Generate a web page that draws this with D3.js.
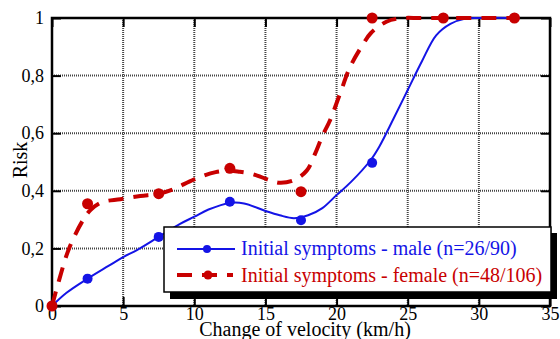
<!DOCTYPE html>
<html>
<head>
<meta charset="utf-8">
<script src="https://cdn.jsdelivr.net/npm/d3@7"></script>
<style>
  html, body { margin: 0; padding: 0; background: #fff; }
  svg { display: block; }
</style>
</head>
<body>
<svg id="chart" width="560" height="339"></svg>
<script>
// Axis ticks
const xTicks = [0, 5, 10, 15, 20, 25, 30, 35];
const yTicks = [0, 0.2, 0.4, 0.6, 0.8, 1];
const yTickLabels = ["0", "0,2", "0,4", "0,6", "0,8", "1"];

// Observed risk per velocity class (dots)
const maleObsX   = [0, 2.5, 7.5, 12.5, 17.5, 22.5, 27.5, 32.5];
const maleObsY   = [0, 0.095, 0.24, 0.362, 0.298, 0.497, 1, 1];
const femaleObsX = [0, 2.5, 7.5, 12.5, 17.5, 22.5, 27.5, 32.5];
const femaleObsY = [0, 0.355, 0.39, 0.478, 0.397, 1, 1, 1];

// Smoothed risk curves
const maleCurveX = [0, 1, 2.5, 4, 5, 6, 7.5, 9, 10, 11, 12.5, 13.5, 15, 16, 17, 18, 19, 20, 21, 22.4, 23, 24, 25, 26, 27, 28, 29, 30, 32.5];
const maleCurveY = [0, 0.045, 0.095, 0.14, 0.17, 0.195, 0.24, 0.285, 0.31, 0.335, 0.358, 0.356, 0.33, 0.315, 0.305, 0.315, 0.34, 0.385, 0.43, 0.507, 0.553, 0.65, 0.75, 0.85, 0.94, 0.98, 0.997, 1, 1];
const femaleCurveX = [0, 0.5, 1.2, 2.2, 2.7, 3.5, 4.8, 6.2, 7.5, 8.5, 10, 11.5, 12.5, 13.2, 14.1, 15.3, 16, 17, 17.9, 18.5, 19, 19.55, 20.25, 20.95, 21.9, 22.4, 23.5, 24.5, 26, 32.5];
const femaleCurveY = [0, 0.09, 0.2, 0.3, 0.333, 0.36, 0.371, 0.382, 0.39, 0.405, 0.44, 0.465, 0.47, 0.466, 0.458, 0.437, 0.428, 0.437, 0.47, 0.53, 0.59, 0.646, 0.738, 0.83, 0.912, 0.947, 0.987, 0.999, 1, 1];

const seriesNames = ["Initial symptoms - male (n=26/90)", "Initial symptoms - female (n=48/106)"];
const xTitle = "Change of velocity (km/h)";
const yTitle = "Risk";

const BLUE = "#1414e6";
const RED = "#c80000";
const FONT = '"Liberation Serif", "Times New Roman"';

const svg = d3.select("#chart");
const L = 52, R = 550, T = 18, B = 306;

const x = d3.scaleLinear().domain([0, 35]).range([L, R]);
const y = d3.scaleLinear().domain([0, 1]).range([B, T]);

// Dotted grid
const grid = svg.append("g");
grid.selectAll("line.gx").data(xTicks.slice(1, -1)).join("line")
  .attr("x1", d => x(d)).attr("x2", d => x(d)).attr("y1", T).attr("y2", B)
  .attr("stroke", "#444").attr("stroke-width", 2).attr("stroke-dasharray", "1,1");
grid.selectAll("line.gy").data(yTicks.slice(1, -1)).join("line")
  .attr("x1", L).attr("x2", R).attr("y1", d => y(d)).attr("y2", d => y(d))
  .attr("stroke", "#444").attr("stroke-width", 2).attr("stroke-dasharray", "1,1");

// Axes with inward ticks on all four sides
const tickLen = 9;
const axB = svg.append("g").attr("transform", `translate(0,${B})`)
  .call(d3.axisBottom(x).tickValues(xTicks).tickSizeInner(-tickLen).tickSizeOuter(0).tickPadding(1));
const axT = svg.append("g").attr("transform", `translate(0,${T})`)
  .call(d3.axisTop(x).tickValues(xTicks).tickSizeInner(-tickLen).tickSizeOuter(0).tickFormat(""));
const axL = svg.append("g").attr("transform", `translate(${L},0)`)
  .call(d3.axisLeft(y).tickValues(yTicks).tickSizeInner(-tickLen).tickSizeOuter(0)
    .tickPadding(8).tickFormat((d, i) => yTickLabels[i]));
const axR = svg.append("g").attr("transform", `translate(${R},0)`)
  .call(d3.axisRight(y).tickValues(yTicks).tickSizeInner(-tickLen).tickSizeOuter(0).tickFormat(""));

[axB, axT, axL, axR].forEach(a => {
  a.attr("font-family", null).attr("font-size", null);
  a.select(".domain").remove();
  a.selectAll(".tick line").attr("stroke", "#000").attr("stroke-width", 2);
  a.selectAll(".tick text")
    .style("font-family", FONT).style("font-size", "18px").attr("fill", "#000");
});

// Frame
svg.append("rect").attr("x", L).attr("y", T).attr("width", R - L).attr("height", B - T)
  .attr("fill", "none").attr("stroke", "#000").attr("stroke-width", 2.5);

// Curves
const line = d3.line().x(d => x(d[0])).y(d => y(d[1])).curve(d3.curveCatmullRom.alpha(0.5));
const maleCurve = d3.zip(maleCurveX, maleCurveY);
const femaleCurve = d3.zip(femaleCurveX, femaleCurveY);

svg.append("path").datum(maleCurve).attr("d", line)
  .attr("fill", "none").attr("stroke", BLUE).attr("stroke-width", 2);
svg.append("g").selectAll("circle").data(d3.zip(maleObsX, maleObsY)).join("circle")
  .attr("cx", d => x(d[0])).attr("cy", d => y(d[1])).attr("r", 5).attr("fill", BLUE);

svg.append("path").datum(femaleCurve).attr("d", line)
  .attr("fill", "none").attr("stroke", RED).attr("stroke-width", 4)
  .attr("stroke-dasharray", "15,10");
svg.append("g").selectAll("circle").data(d3.zip(femaleObsX, femaleObsY)).join("circle")
  .attr("cx", d => x(d[0])).attr("cy", d => y(d[1])).attr("r", 5.5).attr("fill", RED);

// Legend box with drop shadow
const lg = svg.append("g");
lg.append("rect").attr("x", 170).attr("y", 233).attr("width", 387).attr("height", 66).attr("fill", "#000");
lg.append("rect").attr("x", 164).attr("y", 227).attr("width", 387).attr("height", 65)
  .attr("fill", "#fff").attr("stroke", "#000").attr("stroke-width", 1.5);

lg.append("line").attr("x1", 177).attr("x2", 235).attr("y1", 249).attr("y2", 249)
  .attr("stroke", BLUE).attr("stroke-width", 2);
lg.append("circle").attr("cx", 207).attr("cy", 249).attr("r", 4).attr("fill", BLUE);
lg.append("text").attr("x", 241).attr("y", 255).attr("fill", BLUE)
  .style("font-family", FONT).style("font-size", "20px").text(seriesNames[0]);

lg.append("line").attr("x1", 177).attr("x2", 233).attr("y1", 275).attr("y2", 275)
  .attr("stroke", RED).attr("stroke-width", 4).attr("stroke-dasharray", "15,10");
lg.append("circle").attr("cx", 208).attr("cy", 275).attr("r", 4.5).attr("fill", RED);
lg.append("text").attr("x", 241).attr("y", 282).attr("fill", RED)
  .style("font-family", FONT).style("font-size", "20px").text(seriesNames[1]);

// Axis titles
svg.append("text").attr("x", 305).attr("y", 336).attr("text-anchor", "middle").attr("fill", "#000")
  .style("font-family", FONT).style("font-size", "20px").text(xTitle);
svg.append("text").attr("transform", "translate(27,160) rotate(-90)").attr("text-anchor", "middle")
  .attr("fill", "#000").style("font-family", FONT).style("font-size", "20px").text(yTitle);
</script>
</body>
</html>
